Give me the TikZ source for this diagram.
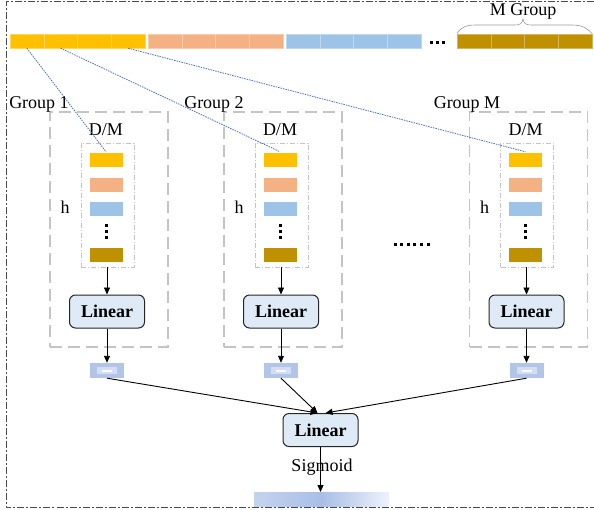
\documentclass[tikz,border=0pt]{standalone}
\usepackage{fontspec}
\setmainfont{Liberation Serif}
\usetikzlibrary{arrows.meta}

\definecolor{cyel}{HTML}{FFC000}
\definecolor{csal}{HTML}{F4B183}
\definecolor{cblu}{HTML}{9DC3E6}
\definecolor{cgld}{HTML}{BF9000}
\definecolor{linfill}{HTML}{DEEBF7}
\definecolor{outerline}{HTML}{4A4A4A}
\definecolor{grpline}{HTML}{C4C4C4}
\definecolor{linkblue}{HTML}{4472C4}
\definecolor{outA}{HTML}{B2C5E8}
\definecolor{outB}{HTML}{D3DEF3}
\definecolor{barL}{HTML}{C6D3EF}
\definecolor{barM}{HTML}{A9BEE7}
\definecolor{barR}{HTML}{EEF2FB}

\tikzset{
  lbl/.style={font=\fontsize{18}{20}\selectfont, inner sep=0pt},
  barcell/.style={minimum width=33.75pt, minimum height=14pt, inner sep=0pt, line width=0.5pt},
  cell/.style={minimum width=34pt, minimum height=15pt, inner sep=0pt, draw=white, line width=0.4pt},
  linbox/.style={draw=black!85, fill=linfill, rounded corners=6pt, line width=1pt,
    minimum width=75pt, minimum height=33pt, inner sep=0pt,
    font=\fontsize{18}{20}\selectfont\bfseries},
  grpframe/.style={draw=grpline, line width=1.3pt, dash pattern=on 12pt off 6pt,
    minimum width=118pt, minimum height=235pt, inner sep=0pt},
  colframe/.style={draw=grpline, line width=0.8pt, dash pattern=on 5pt off 2pt on 1pt off 2pt,
    minimum width=53pt, minimum height=124pt, inner sep=0pt},
  outbox/.style={fill=outA, minimum width=34pt, minimum height=15pt, inner sep=0pt},
  arr/.style={-{Triangle[length=7pt,width=6pt]}, line width=0.9pt},
  link/.style={draw=linkblue, line width=0.8pt, dash pattern=on 1.5pt off 1pt},
  outer/.style={draw=outerline, line width=1pt, dash pattern=on 7pt off 2pt on 2pt off 2pt},
}

\begin{document}
\begin{tikzpicture}[x=1pt,y=-1pt]
\useasboundingbox (0,0) rectangle (594,509);

% outer frame (open on the right)
\draw[outer] (594,1) -- (6.5,1) -- (6.5,507.5) -- (594,507.5);

% feature vector split into M groups
\foreach \c/\s/\n in {cyel/10/y, csal/148/s, cblu/286/b, cgld/457/g}
  \foreach \k in {1,...,4}
    \node[barcell, fill=\c, draw=\c!65!white] (bar-\n\k) at ({\s+33.75*(\k-0.5)},41) {};
\foreach \dx in {-6,0,6}
  \fill ({437+\dx-1.5},40.5) rectangle ++(3,3);

% brace over the last group
\draw[gray!80, line width=0.6pt]
  (bar-g1.north west) .. controls (462,26) and (467,25) .. (477,25) -- (514,25)
  .. controls (520,25) and (522,24) .. (523,19)
  .. controls (524,24) and (526,25) .. (532,25) -- (570,25)
  .. controls (580,25) and (585,26) .. (bar-g4.north east);
\node[lbl] (mgroup) at (523,11) {M Group};

% per-group branches
\foreach \i/\x/\gx/\lab in {1/106/39/Group 1, 2/280/214/Group 2, 3/525.5/467/Group M}{
  \node[grpframe] (grp\i) at (\x+3,229.5) {};
  \node[lbl] (glab\i) at (\gx,104) {\lab};
  \node[colframe] (col\i) at (\x+1.5,205) {};
  \node[lbl] (dm\i) at (\x,130) {D/M};
  \node[lbl] (h\i) at (\x-41,207) {h};
  \node[cell, fill=cyel] (c\i-y) at (\x,159.5) {};
  \node[cell, fill=csal] (c\i-s) at (\x,184.5) {};
  \node[cell, fill=cblu] (c\i-b) at (\x,208.5) {};
  \node[cell, fill=cgld] (c\i-g) at (\x,254.5) {};
  \foreach \dy in {225,231,237}
    \fill (\x-1.5,\dy-1.5) rectangle ++(3,3);
  \node[linbox] (lin\i) at (\x+1,311.5) {Linear};
  \node[outbox] (out\i) at (\x+1,370.5) {};
  \fill[outB] (\x-9,367) rectangle (\x+11,374);
  \fill[white!85!outB] (\x-4,369.5) rectangle (\x+6,371.5);
  \draw[arr] (lin\i.north |- col\i.south) -- (lin\i.north);
  \draw[arr] (lin\i.south) -- (out\i.north);
}

% ellipsis between group 2 and group M
\foreach \k in {0,...,5}
  \fill ({393.5+6.6*\k},242.5) rectangle ++(3,3);

% links from the feature vector to each group
\draw[link] (bar-y1.south) -- (c1-y.north);
\draw[link] (bar-y2.south) -- (c2-y.north);
\draw[link] (bar-y4.south) -- (c3-y.north);

% fusion
\node[linbox] (fin) at (320.5,430) {Linear};
\draw[arr] (out1.south) -- ([xshift=-3pt]fin.north);
\draw[arr] (out2.south) -- ([xshift=-3pt]fin.north);
\draw[arr] (out3.south) -- ([xshift=5pt]fin.north);

\shade[left color=barL, right color=barR, middle color=barM] (254,492) rectangle (389,506);
\coordinate (res) at (320.5,492);
\draw[arr] (fin.south) -- (res);
\node[lbl] (sig) at (322,467) {Sigmoid};
\end{tikzpicture}
\end{document}
